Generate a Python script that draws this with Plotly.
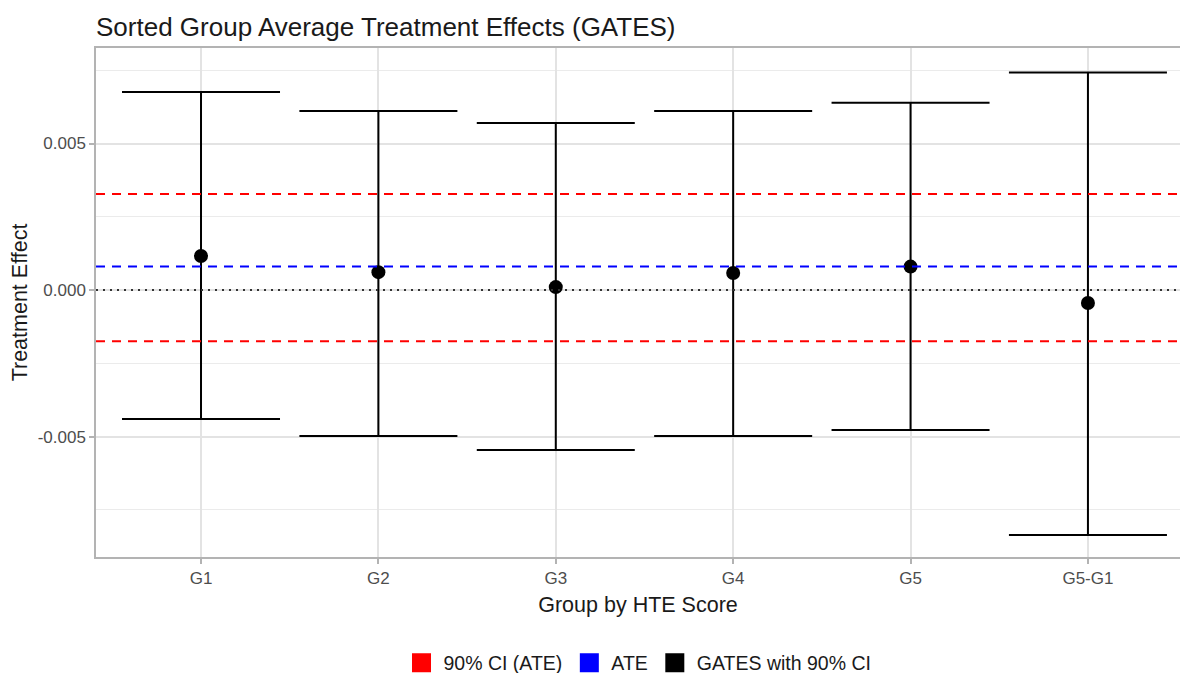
import plotly.graph_objects as go

groups = ["G1", "G2", "G3", "G4", "G5", "G5-G1"]
gates = [0.00116, 0.00061, 0.00010, 0.00058, 0.00080, -0.00044]
ci_upper = [0.00676, 0.00611, 0.00570, 0.00611, 0.00639, 0.00742]
ci_lower = [-0.00440, -0.00498, -0.00546, -0.00498, -0.00478, -0.00836]
ate = 0.00080
ate_ci_upper = 0.00328
ate_ci_lower = -0.00175
ytick_vals = [-0.005, 0.0, 0.005]
ytick_text = ["-0.005", "0.000", "0.005"]

err_plus = [u - g for u, g in zip(ci_upper, gates)]
err_minus = [g - l for g, l in zip(gates, ci_lower)]

font = "Liberation Sans, Arial, sans-serif"
W, H = 1172, 665
fig = go.Figure()

fig.add_hline(y=ate_ci_upper, line=dict(color="red", width=2, dash="9px,7px"))
fig.add_hline(y=ate_ci_lower, line=dict(color="red", width=2, dash="9px,7px"))
fig.add_hline(y=ate, line=dict(color="blue", width=2, dash="9px,7px"))
fig.add_hline(y=0, line=dict(color="#333333", width=2, dash="2px,5px"))

fig.add_trace(go.Scatter(
    x=groups, y=gates, mode="markers",
    marker=dict(color="black", size=14),
    error_y=dict(type="data", symmetric=False, array=err_plus, arrayminus=err_minus,
                 color="black", thickness=2, width=79),
    showlegend=False,
))

for name, col in [("90% CI (ATE)", "red"), ("ATE", "blue"), ("GATES with 90% CI", "black")]:
    fig.add_trace(go.Scatter(
        x=[None], y=[None], mode="markers", name=name,
        marker=dict(color=col, symbol="square", size=16, line=dict(color=col, width=3)),
    ))

fig.update_layout(
    width=W, height=H,
    margin=dict(l=88, r=0, t=40, b=116),
    paper_bgcolor="white", plot_bgcolor="white",
    font=dict(family=font, color="#1a1a1a"),
    title=dict(text="Sorted Group Average Treatment Effects (GATES)",
               x=88 / W, xanchor="left", y=1 - 19 / H, yanchor="middle",
               font=dict(size=26, color="#1a1a1a")),
    legend=dict(orientation="h", x=0.5, xanchor="center", xref="paper",
                y=(H - 655) / H, yanchor="middle", yref="container",
                font=dict(size=19.5, color="#1a1a1a"), itemwidth=34),
)
fig.update_xaxes(
    type="category", range=[-0.592, 5.519],
    showgrid=True, gridcolor="#e3e3e3", gridwidth=1.5,
    ticks="outside", ticklen=5, tickcolor="#b3b3b3", tickwidth=1.5,
    tickfont=dict(size=17, color="#4d4d4d"),
    showline=True, linecolor="#b3b3b3", linewidth=1.5, mirror=True,
    title=dict(text="Group by HTE Score", font=dict(size=21.5, color="#1a1a1a"), standoff=10),
    zeroline=False,
)
fig.update_yaxes(
    range=[-0.00911, 0.00826],
    tickvals=ytick_vals, ticktext=ytick_text,
    showgrid=True, gridcolor="#e3e3e3", gridwidth=1.5,
    minor=dict(dtick=0.0025, showgrid=True, gridcolor="#ebebeb", gridwidth=1.2, tick0=0.0025),
    ticks="outside", ticklen=5, tickcolor="#b3b3b3", tickwidth=1.5,
    tickfont=dict(size=17, color="#4d4d4d"),
    showline=True, linecolor="#b3b3b3", linewidth=1.5, mirror=False,
    title=dict(text="Treatment Effect", font=dict(size=21.5, color="#1a1a1a"), standoff=12),
    zeroline=False,
)

fig.write_html("out.html")
